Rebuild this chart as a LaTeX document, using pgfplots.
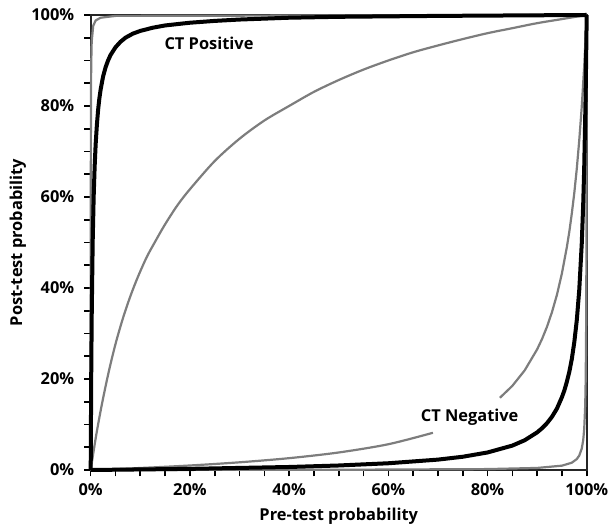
\documentclass[border=0pt]{standalone}
\usepackage{fontspec}
\setmainfont{Open Sans}
\usepackage{pgfplots}
\pgfplotsset{compat=1.18}

\definecolor{curvegray}{RGB}{125,125,125}

\begin{document}
\begin{tikzpicture}
\begin{axis}[
  width=248pt, height=227.5pt, scale only axis,
  xmin=0, xmax=1, ymin=0, ymax=1,
  clip=false,
  axis line style={black!85, line width=0.9pt},
  xtick={0,0.2,0.4,0.6,0.8,1},
  ytick={0,0.2,0.4,0.6,0.8,1},
  xticklabels={0\%,20\%,40\%,60\%,80\%,100\%},
  yticklabels={0\%,20\%,40\%,60\%,80\%,100\%},
  minor tick num=3,
  tick align=outside,
  major tick length=3.2pt, minor tick length=3.2pt,
  tick style={black, line width=0.8pt},
  xtick pos=bottom, ytick pos=left,
  ticklabel style={font=\bfseries\fontsize{8.2}{10}\selectfont},
  yticklabel style={xshift=-1.5pt},
  xlabel={Pre-test probability},
  ylabel={Post-test probability},
  label style={font=\bfseries\fontsize{8.2}{10}\selectfont},
  xlabel style={at={(axis description cs:0.5,-0.1011)}, anchor=center},
  ylabel style={at={(axis description cs:-0.1468,0.5)}, anchor=center},
]
\coordinate (sw) at (rel axis cs:0,0);
\coordinate (ne) at (rel axis cs:1,1);

% upper bound, positive result
\addplot[curvegray, line width=1.1pt] coordinates {
  (0,0) (0.0001,0.444) (0.0002,0.615) (0.0005,0.8) (0.001,0.889)
  (0.002,0.941) (0.005,0.976) (0.01,0.988) (0.02,0.994) (0.05,0.998) (1,1)
};
% lower bound, positive result
\addplot[curvegray, line width=1.1pt, smooth] coordinates {
  (0,0) (0.01,0.0695) (0.02,0.130) (0.03,0.184) (0.04,0.233) (0.052,0.285)
  (0.066,0.337) (0.08,0.382) (0.095,0.424) (0.113,0.468) (0.13,0.502)
  (0.15,0.540) (0.175,0.582) (0.2,0.617) (0.25,0.679) (0.3,0.728)
  (0.35,0.768) (0.4,0.8) (0.45,0.831) (0.5,0.857) (0.55,0.880) (0.6,0.9)
  (0.65,0.918) (0.7,0.933) (0.75,0.947) (0.8,0.96) (0.85,0.971)
  (0.9,0.982) (0.95,0.991) (1,1)
};
% upper bound, negative result (broken behind the label)
\addplot[curvegray, line width=1.1pt, smooth] coordinates {
  (0,0) (0.1,0.0044) (0.2,0.0099) (0.3,0.0169) (0.4,0.026) (0.5,0.0385)
  (0.6,0.0566) (0.69,0.0818)
};
\addplot[curvegray, line width=1.1pt] coordinates {
  (0.825,0.1587) (0.85,0.1848) (0.875,0.219) (0.9,0.265) (0.91,0.288)
  (0.92,0.315) (0.93,0.347) (0.94,0.385) (0.95,0.432) (0.96,0.490)
  (0.965,0.524) (0.97,0.564) (0.975,0.609) (0.98,0.662) (0.985,0.725)
  (0.99,0.798) (0.995,0.888) (1,1)
};
% lower bound, negative result
\addplot[curvegray, line width=1.1pt] coordinates {
  (0,0) (0.5,0.0005) (0.8,0.002) (0.9,0.0045) (0.95,0.0095) (0.97,0.016)
  (0.98,0.024) (0.985,0.0318) (0.99,0.047) (0.993,0.066) (0.995,0.0905)
  (0.997,0.142) (0.998,0.2) (0.999,0.333) (0.9995,0.5) (0.9998,0.714) (1,1)
};
% CT positive
\addplot[black, line width=2pt] coordinates {
  (0,0) (0.001,0.2) (0.002,0.334) (0.004,0.501) (0.006,0.601) (0.008,0.668)
  (0.01,0.716) (0.0125,0.759) (0.015,0.792) (0.0175,0.817) (0.02,0.836)
  (0.025,0.865) (0.03,0.885) (0.035,0.900) (0.04,0.912) (0.05,0.929)
  (0.06,0.941) (0.07,0.950) (0.085,0.959) (0.1,0.965) (0.125,0.972)
  (0.15,0.977) (0.2,0.983) (0.25,0.987) (0.3,0.990) (0.4,0.994)
  (0.5,0.996) (0.7,0.998) (1,1)
};
% CT negative
\addplot[black, line width=2pt] coordinates {
  (0,0) (0.2,0.0025) (0.4,0.0066) (0.5,0.0099) (0.6,0.0148) (0.7,0.0228)
  (0.75,0.0291) (0.8,0.0385) (0.85,0.0536) (0.875,0.0654) (0.9,0.0826)
  (0.91,0.0918) (0.92,0.103) (0.93,0.117) (0.94,0.135) (0.95,0.160)
  (0.955,0.175) (0.96,0.194) (0.965,0.216) (0.97,0.244) (0.975,0.281)
  (0.98,0.329) (0.985,0.396) (0.99,0.497) (0.993,0.586) (0.995,0.666)
  (0.998,0.833) (1,1)
};

\node[font=\bfseries\fontsize{8.2}{10}\selectfont] at (axis cs:0.2385,0.938) {CT Positive};
\node[font=\bfseries\fontsize{8.2}{10}\selectfont] at (axis cs:0.764,0.117) {CT Negative};
\end{axis}
\pgfresetboundingbox
\path[use as bounding box] ([shift={(-45.35pt,-29pt)}]sw) rectangle ([shift={(11.65pt,7.5pt)}]ne);
\end{tikzpicture}
\end{document}
